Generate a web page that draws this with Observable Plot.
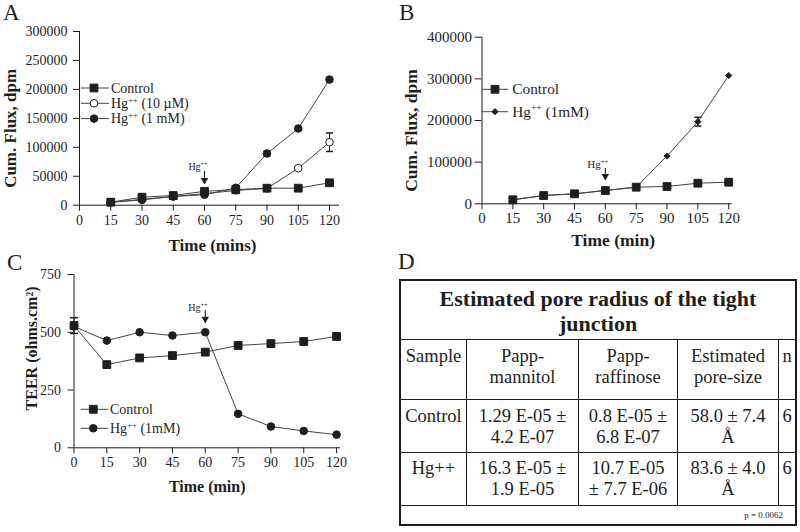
<!DOCTYPE html>
<html>
<head>
<meta charset="utf-8">
<script src="https://cdn.jsdelivr.net/npm/d3@7"></script>
<script src="https://cdn.jsdelivr.net/npm/@observablehq/plot@0.6"></script>
<style>
  html,body{margin:0;padding:0;background:#fff;}
  #fig{position:relative;width:800px;height:532px;overflow:hidden;background:#fff;font-family:"Liberation Serif","Times New Roman",Times,serif;color:#1e1e1e;}
  .panel{position:absolute;}
  .panel svg{display:block;}
  .plabel{position:absolute;font-size:23px;line-height:1;}
  #panelD{position:absolute;left:399px;top:279px;width:398px;height:247px;border:2px solid #1e1e1e;box-sizing:border-box;}
  .cell{position:absolute;text-align:center;font-size:18.5px;line-height:21.6px;white-space:pre-line;box-sizing:border-box;overflow:hidden;}
  .tcell{font-weight:bold;font-size:22px;line-height:25px;padding:5px 8px 0 8px;}
  .hl{position:absolute;height:1px;background:#1e1e1e;}
  .vl{position:absolute;width:1px;background:#1e1e1e;}
  .note{position:absolute;font-size:9px;line-height:10px;text-align:right;}
</style>
</head>
<body>
<div id="fig">
  <div class="panel" id="panelA" style="left:0;top:0"></div>
  <div class="panel" id="panelB" style="left:400px;top:0"></div>
  <div class="panel" id="panelC" style="left:0;top:260px"></div>
  <div id="panelD"></div>
  <div class="plabel" style="left:3px;top:1px">A</div>
  <div class="plabel" style="left:399px;top:1px">B</div>
  <div class="plabel" style="left:7px;top:251px">C</div>
  <div class="plabel" style="left:398px;top:250px">D</div>
</div>
<script>
const FONT = '"Liberation Serif","Times New Roman",Times,serif';
const INK = "#1e1e1e";
const LINE = "#444";

// ---------- Panel A : cumulative flux ----------
const timeA = [15, 30, 45, 60, 75, 90, 105, 120];
const tickTime = [0, 15, 30, 45, 60, 75, 90, 105, 120];
const tickFluxA = [0, 50000, 100000, 150000, 200000, 250000, 300000];
const seriesA = ["Control", "Hg^{++} (10 µM)", "Hg^{++} (1 mM)"];
const fluxAControl = [5200, 13800, 16700, 24000, 27000, 29400, 29400, 38700];
const fluxAHg10uM  = [5000, 10000, 15000, 20000, 25400, 29000, 63900, 108800];
const fluxAHg1mM   = [5000, 9300, 15000, 18000, 30000, 89300, 132500, 217000];
const errAControl  = [0, 0, 0, 0, 0, 0, 0, 0];
const errAHg10uM   = [0, 0, 0, 0, 0, 0, 0, 16000];
const errAHg1mM    = [0, 0, 0, 0, 0, 4000, 0, 0];
const titleAx = "Time (mins)";
const titleAy = "Cum. Flux, dpm";

// ---------- Panel B : cumulative flux ----------
const timeB = [15, 30, 45, 60, 75, 90, 105, 120];
const tickFluxB = [0, 100000, 200000, 300000, 400000];
const seriesB = ["Control", "Hg^{++} (1mM)"];
const fluxBControl = [9600, 19900, 24000, 31900, 39900, 41500, 49500, 51900];
const fluxBHg1mM   = [9600, 19900, 24000, 31900, 39900, 114700, 197200, 307900];
const errBControl  = [0, 0, 0, 0, 0, 0, 0, 0];
const errBHg1mM    = [0, 0, 0, 0, 0, 0, 10500, 0];
const titleBx = "Time (min)";
const titleBy = "Cum. Flux, dpm";

// ---------- Panel C : TEER ----------
const timeC = [0, 15, 30, 45, 60, 75, 90, 105, 120];
const tickTeer = [0, 250, 500, 750];
const seriesC = ["Control", "Hg^{++} (1mM)"];
const teerControl = [529, 360, 389, 399, 414, 443, 451, 460, 482];
const teerHg1mM   = [525, 464, 500, 486, 500, 147, 92, 73, 57];
const errCControl = [34, 0, 0, 0, 0, 0, 0, 0, 0];
const errCHg1mM   = [0, 0, 0, 0, 0, 0, 0, 0, 0];
const titleCx = "Time (min)";
const titleCy = "TEER (ohms.cm²)";

// Hg++ addition annotation (arrow top, arrow tip, label) per panel, at t = 60 min
const hgLabel = "Hg^{++}";
const hgTime = 60;
const hgArrowA = [58200, 35800, 65600];
const hgArrowB = [84800, 55900, 94300];
const hgArrowC = [594, 539, 606];

// ---------- Panel D : table ----------
const tableTitle = "Estimated pore radius of the tight junction";
const tableHeader = ["Sample", "Papp-\nmannitol", "Papp-\nraffinose", "Estimated\npore-size", "n"];
const tableRowControl = ["Control", "1.29 E-05 ±\n4.2 E-07", "0.8 E-05 ±\n6.8 E-07", "58.0 ± 7.4\nÅ", "6"];
const tableRowHg = ["Hg++", "16.3 E-05 ±\n1.9 E-05", "10.7 E-05\n± 7.7 E-06", "83.6 ± 4.0\nÅ", "6"];
const tableNote = "p = 0.0062";

// ---------- helpers ----------
const d3Symbols = {square: d3.symbolSquare, circle: d3.symbolCircle, diamond2: d3.symbolDiamond2};

function richText(sel, x, y, label, size, opts = {}) {
  const t = sel.append("text")
    .attr("x", x).attr("y", y)
    .attr("font-family", FONT).attr("font-size", size)
    .attr("fill", INK).attr("text-anchor", opts.anchor || "start");
  const parts = label.split(/\^\{([^}]*)\}/);
  const rise = size * 0.36;
  let prevSup = false;
  parts.forEach((p, k) => {
    const sup = k % 2 === 1;
    if (!p) return;
    const ts = t.append("tspan").text(p);
    if (sup) { ts.attr("font-size", size * 0.62).attr("dy", prevSup ? 0 : -rise); }
    else if (prevSup) { ts.attr("dy", rise); }
    prevSup = sup;
  });
  return t;
}

function makePanel(cfg) {
  const rows = [];
  cfg.series.forEach((s, i) => cfg.times.forEach((t, j) =>
    rows.push({s, i, t, v: cfg.values[i][j], e: cfg.errors[i][j]})));
  const errRows = rows.filter(d => d.e > 0);
  const capW = cfg.capW;
  const cap = {draw(ctx) { ctx.moveTo(-capW, 0); ctx.lineTo(capW, 0); }};
  const tri = {x: hgTime, top: cfg.arrow[0], tip: cfg.arrow[1]};

  const plot = Plot.plot({
    width: cfg.width, height: cfg.height,
    marginLeft: cfg.m[0], marginRight: cfg.m[1], marginTop: cfg.m[2], marginBottom: cfg.m[3],
    style: {fontFamily: FONT, fontSize: cfg.tickFont + "px", color: INK, background: "transparent", overflow: "visible"},
    x: {domain: cfg.xDomain, axis: null},
    y: {domain: cfg.yDomain, axis: null},
    marks: [
      Plot.axisX({ticks: cfg.xTicks, tickSize: cfg.xTick[0], tickPadding: cfg.xTick[1], tickFormat: d => String(d), label: null, fontSize: cfg.tickFont, stroke: INK}),
      Plot.axisY({ticks: cfg.yTicks, tickSize: cfg.yTick[0], tickPadding: cfg.yTick[1], tickFormat: d => String(d), label: null, fontSize: cfg.tickFont, stroke: INK}),
      Plot.ruleY([cfg.yDomain[0]], {stroke: INK}),
      Plot.ruleX([cfg.xDomain[0]], {stroke: INK}),
      Plot.line(rows, {x: "t", y: "v", z: "s", stroke: LINE, strokeWidth: 1}),
      Plot.ruleX(errRows, {x: "t", y1: d => d.v - d.e, y2: d => d.v + d.e, stroke: INK}),
      Plot.dot(errRows, {x: "t", y: d => d.v + d.e, symbol: cap, r: 1, stroke: INK, fill: "none"}),
      Plot.dot(errRows, {x: "t", y: d => d.v - d.e, symbol: cap, r: 1, stroke: INK, fill: "none"}),
      ...cfg.order.map(i => Plot.dot(rows.filter(d => d.i === i), {
        x: "t", y: "v", symbol: cfg.styles[i].symbol, r: cfg.styles[i].r,
        fill: cfg.styles[i].fill, stroke: INK, strokeWidth: 1
      })),
      Plot.ruleX([tri], {x: "x", y1: "top", y2: "tip", stroke: INK, strokeWidth: 1.1}),
      Plot.dot([tri], {x: "x", y: "tip", symbol: "triangle", rotate: 180, r: 2.8, fill: INK, stroke: "none", dy: -4.3}),
      Plot.text([cfg.xTitle], {text: d => d, frameAnchor: "bottom", textAnchor: "middle", lineAnchor: "bottom", dx: cfg.xTitlePos[0], dy: cfg.xTitlePos[1], fontSize: cfg.titleFont, fontWeight: "bold", fill: INK}),
      Plot.text([cfg.yTitle], {text: d => d, frameAnchor: "left", textAnchor: "middle", lineAnchor: "top", rotate: -90, dx: cfg.yTitlePos[0], dy: cfg.yTitlePos[1], fontSize: cfg.titleFont, fontWeight: "bold", fill: INK})
    ]
  });

  const svg = d3.select(plot);
  const sx = plot.scale("x").apply(hgTime);
  const sy = plot.scale("y").apply(cfg.arrow[2]);
  richText(svg, sx + cfg.arrowLabelDx, sy + 0.33 * cfg.arrowFont, hgLabel, cfg.arrowFont, {anchor: "middle"});

  const L = cfg.legend;
  const g = svg.append("g").attr("aria-label", "legend");
  cfg.series.forEach((s, i) => {
    const y = L.y0 + i * L.gap;
    const st = cfg.styles[i];
    g.append("line").attr("x1", L.x1).attr("x2", L.x2).attr("y1", y).attr("y2", y).attr("stroke", LINE);
    g.append("path").attr("transform", `translate(${L.xm},${y})`)
      .attr("d", d3.symbol(d3Symbols[st.symbol], Math.PI * st.r * st.r)())
      .attr("fill", st.fill).attr("stroke", INK);
    richText(g, L.xt, y + 0.33 * L.size, s, L.size);
  });
  document.getElementById(cfg.id).appendChild(plot);
}

const sq = {symbol: "square", r: 4.4, fill: INK};
const dotFilled = {symbol: "circle", r: 3.8, fill: INK};
const dotOpen = {symbol: "circle", r: 3.8, fill: "#fff"};
const diamond = {symbol: "diamond2", r: 2.8, fill: INK};

makePanel({
  id: "panelA", width: 400, height: 260, m: [79, 61, 31, 55.3],
  xDomain: [0, 124.8], yDomain: [0, 300000], xTicks: tickTime, yTicks: tickFluxA,
  xTick: [6, 4], yTick: [6, 6], tickFont: 14, titleFont: 17, capW: 3.5,
  times: timeA, series: seriesA,
  values: [fluxAControl, fluxAHg10uM, fluxAHg1mM], errors: [errAControl, errAHg10uM, errAHg1mM],
  styles: [sq, dotOpen, dotFilled], order: [1, 2, 0],
  xTitle: titleAx, yTitle: titleAy, xTitlePos: [3, 45.3], yTitlePos: [-75.5, 10],
  arrow: hgArrowA, arrowLabelDx: -6, arrowFont: 10,
  legend: {y0: 88, gap: 15.3, x1: 81, x2: 109, xm: 94, xt: 111, size: 14}
});

makePanel({
  id: "panelB", width: 400, height: 260, m: [81.5, 68.3, 36.7, 56.7],
  xDomain: [0, 121.7], yDomain: [0, 400000], xTicks: tickTime, yTicks: tickFluxB,
  xTick: [6, 3], yTick: [7, 3], tickFont: 15, titleFont: 17.5, capW: 3.5,
  times: timeB, series: seriesB,
  values: [fluxBControl, fluxBHg1mM], errors: [errBControl, errBHg1mM],
  styles: [sq, diamond], order: [1, 0],
  xTitle: titleBx, yTitle: titleBy, xTitlePos: [6, 41.7], yTitlePos: [-77.5, 10],
  arrow: hgArrowB, arrowLabelDx: -7, arrowFont: 11,
  legend: {y0: 89.3, gap: 22.4, x1: 81.5, x2: 108, xm: 95, xt: 112.3, size: 15.3}
});

makePanel({
  id: "panelC", width: 400, height: 272, m: [73.5, 60, 14, 84.7],
  xDomain: [0, 121.8], yDomain: [0, 750], xTicks: tickTime, yTicks: tickTeer,
  xTick: [6, 3.5], yTick: [6, 7], tickFont: 14, titleFont: 16, capW: 4,
  times: timeC, series: seriesC,
  values: [teerControl, teerHg1mM], errors: [errCControl, errCHg1mM],
  styles: [sq, dotFilled], order: [1, 0],
  xTitle: titleCx, yTitle: titleCy, xTitlePos: [0, 44.4], yTitlePos: [-48.5, -12.7],
  arrow: hgArrowC, arrowLabelDx: -7, arrowFont: 10,
  legend: {y0: 149.3, gap: 19, x1: 80.7, x2: 108.3, xm: 93.3, xt: 110, size: 14}
});

// ---------- table D ----------
(function buildTable() {
  const box = document.getElementById("panelD");
  const colEdges = [0, 65, 177, 276, 377, 394];
  const rowEdges = [0, 58, 118, 171, 224, 243];
  const add = (cls, style, text) => {
    const el = document.createElement("div");
    el.className = cls;
    Object.assign(el.style, style);
    if (text != null) el.textContent = text;
    box.appendChild(el);
    return el;
  };
  add("cell tcell", {left: "0px", top: "0px", width: "394px", height: "58px"}, tableTitle);
  const bodyRows = [tableHeader, tableRowControl, tableRowHg];
  const padTop = [5.5, 5.5, 4.5];
  bodyRows.forEach((row, r) => {
    const top = rowEdges[r + 1] + 1, bottom = rowEdges[r + 2];
    row.forEach((txt, c) => {
      const left = colEdges[c] + (c ? 1 : 0), right = colEdges[c + 1];
      add("cell", {left: left + "px", top: top + "px", width: (right - left) + "px",
        height: (bottom - top) + "px", paddingTop: padTop[r] + "px"}, txt);
    });
  });
  [1, 2, 3, 4].forEach(k => add("hl", {left: "0px", top: rowEdges[k] + "px", width: "394px"}));
  [1, 2, 3, 4].forEach(k => add("vl", {left: colEdges[k] + "px", top: rowEdges[1] + "px", height: (rowEdges[4] - rowEdges[1]) + "px"}));
  add("note", {left: "0px", top: (rowEdges[4] + 5) + "px", width: "382px"}, tableNote);
})();
</script>
</body>
</html>
